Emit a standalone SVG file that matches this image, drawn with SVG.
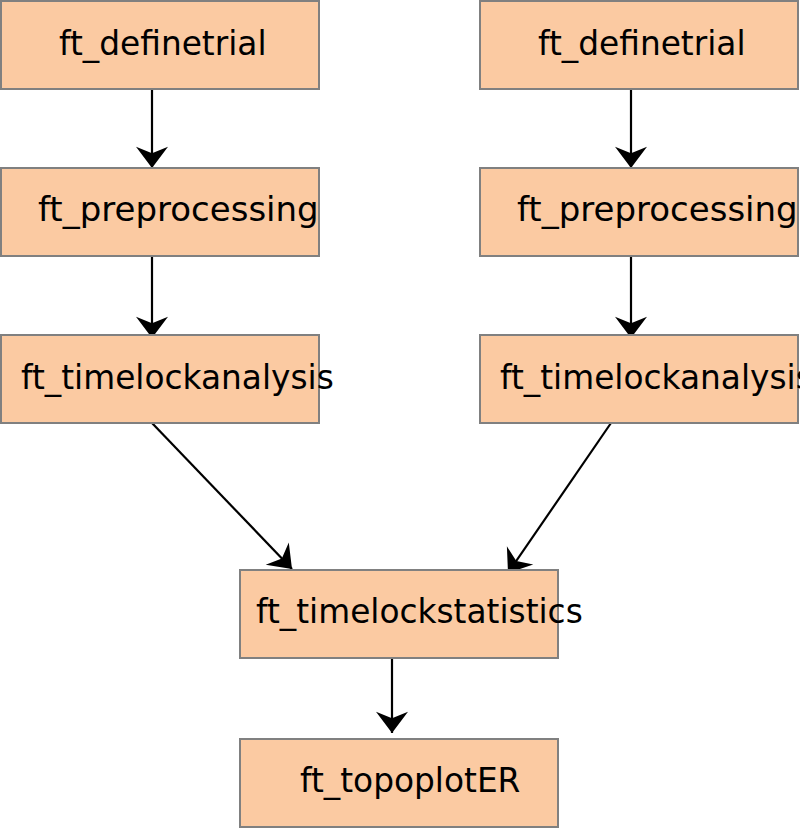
<svg xmlns="http://www.w3.org/2000/svg" width="800" height="830" viewBox="0 0 800 830">
<style>
.box{fill:#fbcaa2;stroke:#808080;stroke-width:2}
.lbl{font-family:"DejaVu Sans",sans-serif;font-size:32.8px;fill:#000}
.big{font-size:34px}
.edge{stroke:#000;stroke-width:2.2;fill:none;marker-end:url(#ah)}
</style>
<defs>
<marker id="ah" markerUnits="userSpaceOnUse" orient="auto" refX="0" refY="0" markerWidth="40" markerHeight="40" viewBox="-20 -15 24 30" overflow="visible">
<path d="M0,0 L-16,-12 L-11,0 L-16,12 Z" fill="#000"/>
</marker>
<clipPath id="c3"><rect x="1" y="168" width="317" height="88"/></clipPath>
<clipPath id="c4"><rect x="480" y="168" width="317" height="88"/></clipPath>
</defs>
<rect width="800" height="830" fill="#fff"/>
<g id="connectors">
<line class="edge" x1="152" y1="89" x2="152" y2="168"/>
<line class="edge" x1="152" y1="256" x2="152" y2="338"/>
<line class="edge" x1="631" y1="89" x2="631" y2="168"/>
<line class="edge" x1="631" y1="256" x2="631" y2="338"/>
<line class="edge" x1="152" y1="423" x2="292" y2="569"/>
<line class="edge" x1="611" y1="423" x2="508" y2="573"/>
<line class="edge" x1="392" y1="658" x2="392" y2="733"/>
</g>
<g id="n1"><rect class="box" x="1" y="1" width="318" height="88"/><text class="lbl" x="59" y="55">ft_definetrial</text></g>
<g id="n2"><rect class="box" x="480" y="1" width="318" height="88"/><text class="lbl" x="538" y="55">ft_definetrial</text></g>
<g id="n3"><rect class="box" x="1" y="168" width="318" height="88"/><text class="lbl big" x="38" y="221" clip-path="url(#c3)">ft_preprocessing</text></g>
<g id="n4"><rect class="box" x="480" y="168" width="318" height="88"/><text class="lbl big" x="517" y="221" clip-path="url(#c4)">ft_preprocessing</text></g>
<g id="n5"><rect class="box" x="1" y="335" width="318" height="88"/><text class="lbl" x="21" y="389">ft_timelockanalysis</text></g>
<g id="n6"><rect class="box" x="480" y="335" width="318" height="88"/><text class="lbl" x="500" y="389">ft_timelockanalysis</text></g>
<g id="n7"><rect class="box" x="240" y="570" width="318" height="88"/><text class="lbl" x="256" y="623">ft_timelockstatistics</text></g>
<g id="n8"><rect class="box" x="240" y="739" width="318" height="88"/><text class="lbl" x="300" y="792">ft_topoplotER</text></g>
</svg>
